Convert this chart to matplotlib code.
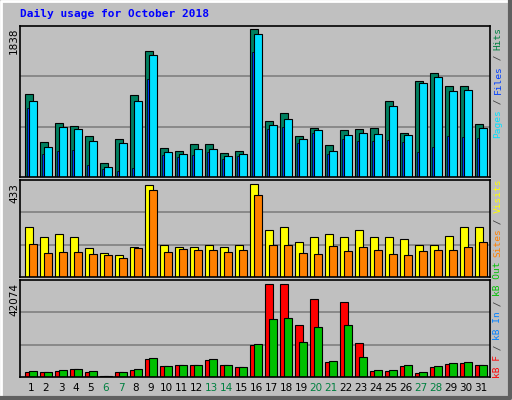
import matplotlib
matplotlib.use("Agg")
import matplotlib.pyplot as plt
from matplotlib.lines import Line2D

# ----------------------------------------------------------------------
# data
# ----------------------------------------------------------------------
days = list(range(1, 32))
weekends = [6, 7, 13, 14, 20, 21, 27, 28]

hits = [1025, 438, 675, 638, 513, 175, 475, 1013, 1563, 363, 325, 413, 413, 300, 325, 1838,
        700, 800, 513, 613, 400, 588, 600, 613, 942, 550, 1188, 1292, 1125, 1125, 663]
files = [942, 375, 625, 600, 450, 125, 425, 942, 1513, 313, 288, 350, 350, 263, 288, 1775,
         650, 725, 475, 588, 325, 525, 550, 538, 888, 525, 1163, 1238, 1063, 1075, 613]
pages = [863, 288, 325, 338, 150, 100, 75, 113, 1213, 275, 250, 275, 313, 225, 263, 1550,
         600, 625, 425, 550, 288, 475, 450, 450, 463, 438, 313, 375, 513, 500, 488]

visits = [231, 184, 198, 184, 136, 113, 104, 141, 428, 151, 141, 141, 151, 141, 151, 433,
          221, 231, 165, 188, 198, 184, 217, 184, 184, 179, 151, 151, 193, 231, 231]
sites = [155, 113, 118, 118, 108, 104, 89, 136, 405, 118, 132, 127, 127, 118, 127, 381,
         151, 151, 113, 108, 146, 122, 141, 127, 108, 104, 122, 127, 127, 141, 165]

kb_f = [2312, 2312, 2774, 3699, 2312, 462, 2312, 3236, 8322, 5086, 5548, 5548, 7860, 5548, 4624, 14333,
        42074, 42074, 23580, 35139, 6935, 33752, 15258, 2774, 2774, 5086, 1849, 4624, 6011, 6473, 5548]
kb_out = [2774, 2312, 3236, 3699, 2774, 462, 2312, 3699, 8785, 5086, 5548, 5548, 8322, 5548, 4624, 14795,
          26354, 26817, 15720, 22655, 7398, 23580, 9247, 3236, 3236, 5548, 2312, 5086, 6473, 6935, 5548]
kb_in = [0] * 31

W, H = 512, 400
BG = "#c0c0c0"


def px_axes(fig, top, bottom):
    """Axes placed with pixel coords of the reference."""
    ax = fig.add_axes([20 / W, 1 - bottom / H, 470 / W, (bottom - top) / H])
    ax.set_facecolor(BG)
    ax.set_xlim(0.33, 31.67)
    ax.set_xticks([])
    ax.set_yticks([])
    for s in ax.spines.values():
        s.set_linewidth(1.2)
    return ax


def grid(ax, top):
    ax.set_ylim(0, top)
    for f in (1 / 3, 2 / 3):
        ax.axhline(top * f, color="#808080", lw=1.2, zorder=0)


def stacked_label(fig, pieces, x, y_bottom, step=5.5, size=6.8):
    """Multi coloured vertical label, reading bottom to top."""
    y = y_bottom
    for txt, col in pieces:
        fig.text(x / W, 1 - y / H, txt, rotation=90, color=col, family="DejaVu Sans Mono",
                 fontsize=size, ha="center", va="bottom")
        y -= step * len(txt)


fig = plt.figure(figsize=(W / 100, H / 100), dpi=100, facecolor=BG)

# bevel border
fig.add_artist(Line2D([1 / W, 1 / W, 1 - 1 / W], [1 / H, 1 - 1 / H, 1 - 1 / H], color="white", lw=2))
fig.add_artist(Line2D([1 / W, 1 - 2 / W, 1 - 2 / W], [2 / H, 2 / H, 1 - 1 / H], color="#606060", lw=3))

fig.text(20 / W, 1 - 14 / H, "Daily usage for October 2018", color="#0000ff", family="DejaVu Sans Mono",
         fontweight="bold", fontsize=8, va="center")

x = days
# top panel: hits / pages / files
ax1 = px_axes(fig, 26, 177)
grid(ax1, max(hits) * 150 / 147)
ax1.bar([d - 0.33 for d in x], hits, width=0.53, align="edge", color="#008060", edgecolor="black", lw=0.8)
ax1.bar([d - 0.2 for d in x], pages, width=0.13, align="edge", color="#0040ff", edgecolor="black", lw=0.5)
ax1.bar([d - 0.07 for d in x], files, width=0.53, align="edge", color="#00e0ff", edgecolor="black", lw=0.8)

# middle panel: visits / sites
ax2 = px_axes(fig, 180, 277)
grid(ax2, max(visits) * 96 / 92)
ax2.bar([d - 0.33 for d in x], visits, width=0.53, align="edge", color="#ffff00", edgecolor="black", lw=0.8)
ax2.bar([d - 0.07 for d in x], sites, width=0.53, align="edge", color="#ff8000", edgecolor="black", lw=0.8)

# bottom panel: kB F / kB In / kB Out
ax3 = px_axes(fig, 280, 377)
grid(ax3, max(kb_f) * 95 / 91)
ax3.bar([d - 0.33 for d in x], kb_f, width=0.53, align="edge", color="#ff0000", edgecolor="black", lw=0.8)
ax3.bar([d - 0.2 for d in x], kb_in, width=0.13, align="edge", color="#0080ff", edgecolor="black", lw=0.5)
ax3.bar([d - 0.07 for d in x], kb_out, width=0.53, align="edge", color="#00c000", edgecolor="black", lw=0.8)

# day labels
for d in days:
    fig.text((25 + 15 * (d - 1) + 6) / W, 1 - 388 / H, str(d), ha="center", va="center", fontsize=7.5,
             color="#008040" if d in weekends else "black")

# max values on the left
for val, ytop in [(max(hits), 28), (max(visits), 183), (max(kb_f), 283)]:
    fig.text(14 / W, 1 - ytop / H, str(val), rotation=90, ha="center", va="top", fontsize=7.5)

sl = "#404040"
stacked_label(fig, [("Pages", "#00e0ff"), (" / ", sl), ("Files", "#0040ff"), (" / ", sl), ("Hits", "#008040")],
              498, 138)
stacked_label(fig, [("Sites", "#ff8000"), (" / ", sl), ("Visits", "#ffff00")], 498, 257)
stacked_label(fig, [("kB F", "#ff0000"), (" / ", sl), ("kB In", "#0080ff"), (" / ", sl), ("kB Out", "#00c000")],
              498, 378)

fig.savefig("out.png", dpi=100, facecolor=BG)
